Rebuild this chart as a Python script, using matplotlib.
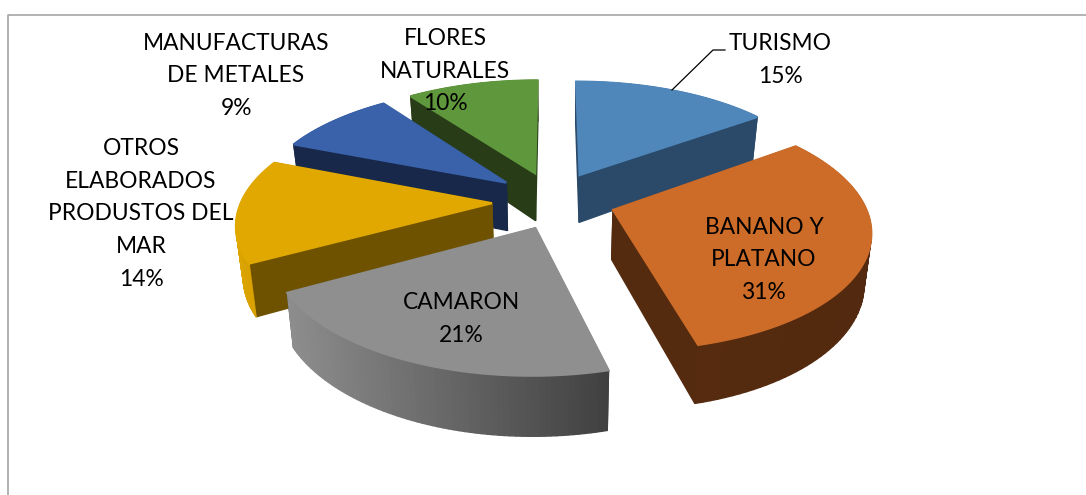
#!/usr/bin/env python3
"""Pastel 3D con porciones separadas: exportaciones por sector."""

import numpy as np
import matplotlib
matplotlib.use('Agg')
import matplotlib.pyplot as plt
from matplotlib.colors import to_rgb
from matplotlib.patches import Polygon

# datos
categories = ['TURISMO', 'BANANO Y\nPLATANO', 'CAMARON',
              'OTROS\nELABORADOS\nPRODUSTOS DEL\nMAR',
              'MANUFACTURAS\nDE METALES', 'FLORES\nNATURALES']
values = [15, 31, 21, 14, 9, 10]

top_colors = ['#4f87bb', '#cd6c28', '#8f8f8f', '#e0a800', '#3a62aa', '#5f983c']
face_colors = ['#2b4a69', '#552b10', '#444444', '#6e5200', '#18284a', '#283c18']
arc_left = ['#2b4a69', '#562b10', '#8e8e8e', '#dfa600', '#18284a', '#283c18']
arc_right = ['#2b4a69', '#532a0f', '#414141', '#c99700', '#18284a', '#283c18']
label_pos = [(780, 60), (764, 260), (461, 319), (141, 214), (236, 76), (445, 71)]
nudge = [(-1, 0), (0, 0), (8, 1), (2, 3), (2, 0), (1, 0)]
draw_order = [5, 0, 4, 3, 1, 2]

# geometria de la proyeccion (pixeles)
CX, CY = 553.0, 200.0
R = 250.0
EXPLODE = 63.0
K = 0.46
P = 0.155
H = 49.0
SHRINK = 0.023


def project(x, y, z=0.0):
    """x a la derecha, y hacia el observador, z hacia abajo"""
    s = 1.0 / (1.0 - P * np.asarray(y) / R)
    return CX + x * s * (1 - SHRINK * z / H), CY + K * y * s + z * s


def mix(c1, c2, f):
    c1, c2 = np.array(to_rgb(c1)), np.array(to_rgb(c2))
    return tuple(c1 + (c2 - c1) * np.clip(f, 0, 1))


def draw_slice(ax, a0, a1, i):
    mid = (a0 + a1) / 2
    ox, oy = EXPLODE * np.sin(mid), -EXPLODE * np.cos(mid)
    ox += nudge[i][0]
    oy += nudge[i][1]
    th = np.linspace(a0, a1, 70)
    x = ox + R * np.sin(th)
    y = oy - R * np.cos(th)

    def quad(xa, ya, xb, yb, color):
        p1 = project(xa, ya)
        p2 = project(xb, yb)
        p3 = project(xb, yb, H)
        p4 = project(xa, ya, H)
        ax.add_patch(Polygon([p1, p2, p3, p4], closed=True, facecolor=color,
                             edgecolor=color, linewidth=1.0))

    # caras radiales y arco: de atras hacia adelante
    faces = [(y[0], ox, oy, x[0], y[0], face_colors[i]),
             (y[-1], ox, oy, x[-1], y[-1], face_colors[i])]
    faces.sort(key=lambda f: f[0])
    sx_all = project(x, y)[0]
    lo, hi = sx_all.min(), sx_all.max()
    for f in faces:
        quad(f[1], f[2], f[3], f[4], f[5])
    order = np.argsort((y[:-1] + y[1:]) / 2)
    for j in order:
        f = (sx_all[j] - lo) / max(hi - lo, 1)
        quad(x[j], y[j], x[j + 1], y[j + 1], mix(arc_left[i], arc_right[i], f))

    # tapa, con borde propio para tapar lo que asoma de las caras traseras
    tx = np.r_[ox, x]
    ty = np.r_[oy, y]
    sx, sy = project(tx, ty)
    ax.add_patch(Polygon(np.c_[sx, sy], closed=True, facecolor=top_colors[i],
                         edgecolor=top_colors[i], linewidth=1.6))


fig = plt.figure(figsize=(10.86, 4.95), dpi=100)
plt.rcParams['font.family'] = ['Lato', 'DejaVu Sans']
ax = fig.add_axes([0, 0, 1, 1])
ax.set_xlim(0, 1086)
ax.set_ylim(495, 0)
ax.axis('off')

# marco del grafico
ax.plot([8, 8, 1086], [495, 15, 15], color='#a6a6a6', lw=1.2)

edges = np.r_[0, np.cumsum(values)] / np.sum(values) * 2 * np.pi
for i in draw_order:
    draw_slice(ax, edges[i], edges[i + 1], i)

# linea guia de TURISMO
ax.plot([672, 713, 725], [90, 50, 50], color='black', lw=0.9)

for name, val, (lx, ly) in zip(categories, values, label_pos):
    ax.text(lx, ly, f'{name}\n{val}%', ha='center', va='center', fontsize=16.4,
            color='black', linespacing=1.68)

fig.savefig('out.png', dpi=100)
